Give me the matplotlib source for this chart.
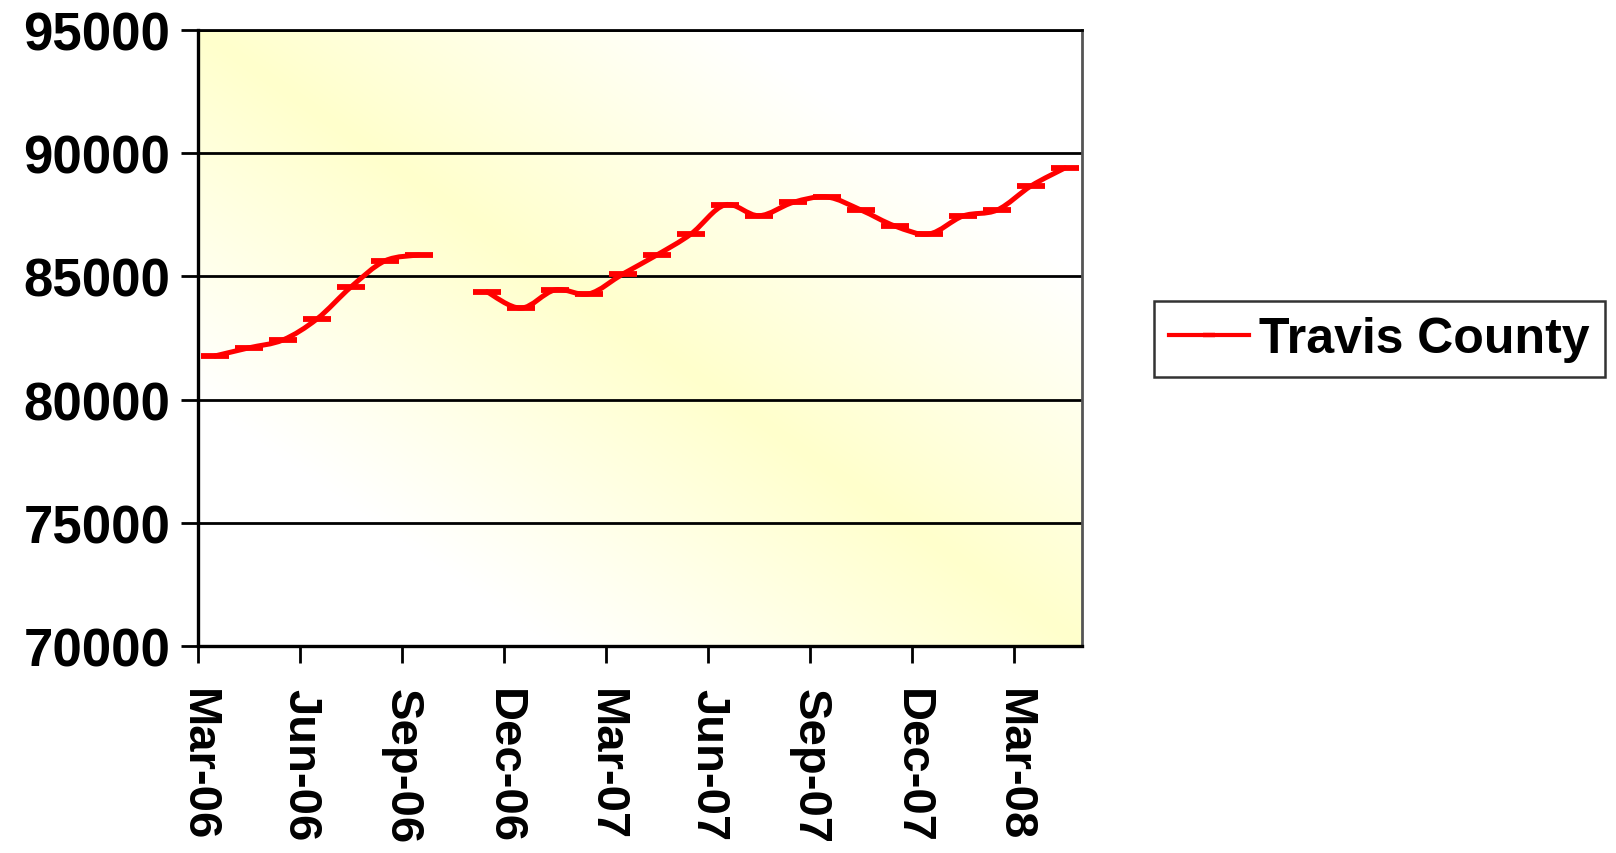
import numpy as np
import matplotlib.pyplot as plt
from matplotlib.path import Path
from matplotlib.patches import PathPatch
from matplotlib.colors import LinearSegmentedColormap

# ===============================
# Data
# ===============================
months = ["Mar-06", "Apr-06", "May-06", "Jun-06", "Jul-06", "Aug-06", "Sep-06",
          "Oct-06", "Nov-06", "Dec-06", "Jan-07", "Feb-07", "Mar-07", "Apr-07",
          "May-07", "Jun-07", "Jul-07", "Aug-07", "Sep-07", "Oct-07", "Nov-07",
          "Dec-07", "Jan-08", "Feb-08", "Mar-08", "Apr-08"]
travis = [81770, 82100, 82420, 83270, 84570, 85630, 85870,
          np.nan, 84370, 83710, 84450, 84290, 85100, 85870,
          86720, 87900, 87460, 88000, 88220, 87690, 87040,
          86720, 87450, 87690, 88670, 89400]
tick_labels = ["Mar-06", "Jun-06", "Sep-06", "Dec-06", "Mar-07",
               "Jun-07", "Sep-07", "Dec-07", "Mar-08"]
y_ticks = [70000, 75000, 80000, 85000, 90000, 95000]

plt.rcParams["font.family"] = ["Liberation Sans", "DejaVu Sans"]
plt.rcParams["font.weight"] = "bold"

x = np.arange(len(months), dtype=float)
y = np.array(travis, dtype=float)
RED = "#ff0000"


def smooth_path(xs, ys):
    # Excel-style smoothed line: cubic Bezier through every point
    verts = [(xs[0], ys[0])]
    codes = [Path.MOVETO]
    n = len(xs)
    for i in range(n - 1):
        p0 = np.array([xs[max(i - 1, 0)], ys[max(i - 1, 0)]])
        p1 = np.array([xs[i], ys[i]])
        p2 = np.array([xs[i + 1], ys[i + 1]])
        p3 = np.array([xs[min(i + 2, n - 1)], ys[min(i + 2, n - 1)]])
        c1 = p1 + (p2 - p0) / 6
        c2 = p2 - (p3 - p1) / 6
        verts += [tuple(c1), tuple(c2), tuple(p2)]
        codes += [Path.CURVE4] * 3
    return Path(verts, codes)


fig = plt.figure(figsize=(16.16, 8.54), dpi=100)
ax = fig.add_axes([0.1225, 0.2424, 0.5471, 0.7214])

# gradient background: yellow along the main diagonal, white toward the other corners
gx, gy = np.meshgrid(np.linspace(0, 1, 300), np.linspace(0, 1, 300))
d = np.clip(np.abs(gx + gy - 1) / 0.6, 0, 1)
cmap = LinearSegmentedColormap.from_list("yw", ["#ffffcc", "#ffffff"])
ax.imshow(d, cmap=cmap, extent=[0, 1, 0, 1], origin="lower", aspect="auto",
          transform=ax.transAxes, zorder=0, vmin=0, vmax=1)

# line segments split at the missing month
ok = ~np.isnan(y)
start = None
for i in range(len(y) + 1):
    if i < len(y) and ok[i]:
        if start is None:
            start = i
    elif start is not None:
        seg = slice(start, i)
        ax.add_patch(PathPatch(smooth_path(x[seg], y[seg]), fill=False,
                               edgecolor=RED, lw=3.6, zorder=3,
                               capstyle="round", joinstyle="round"))
        start = None

ax.plot(x, y, linestyle="none", marker="_", markersize=20, markeredgewidth=4.2,
        color=RED, zorder=4)
ax.plot([], [], color=RED, lw=3.0, marker="_", markersize=8,
        markeredgewidth=3.2, label="Travis County")

ax.set_xlim(-0.5, len(months) - 0.5)
ax.set_ylim(70000, 95000)
ax.set_yticks(y_ticks)
ax.set_yticklabels([str(v) for v in y_ticks], fontsize=38, fontweight="bold")
ax.set_xticks(np.arange(-0.5, len(months) - 1, 3))
ax.set_xticklabels(tick_labels, rotation=-90, fontsize=34, fontweight="bold",
                   va="top", ha="center")
ax.tick_params(axis="both", direction="out", length=12, width=2, color="black")
ax.tick_params(axis="y", pad=8)
ax.tick_params(axis="x", pad=18)

ax.grid(axis="y", color="black", lw=2.0, zorder=1)
ax.set_axisbelow(True)
ax.spines["left"].set_linewidth(2.4)
ax.spines["bottom"].set_linewidth(2.4)
ax.spines["right"].set_color("#555555")
ax.spines["right"].set_linewidth(2.0)
ax.spines["top"].set_linewidth(2.0)

leg = fig.legend(loc="upper left", bbox_to_anchor=(1154 / 1616, 1 - 302 / 854),
                 fontsize=36, frameon=True, fancybox=False, handlelength=1.6,
                 borderpad=0.3, handletextpad=0.2, borderaxespad=0)
leg.get_frame().set_edgecolor("black")
leg.get_frame().set_linewidth(1.8)
for t in leg.get_texts():
    t.set_fontweight("bold")

plt.savefig("out.png", dpi=100)
plt.close()
